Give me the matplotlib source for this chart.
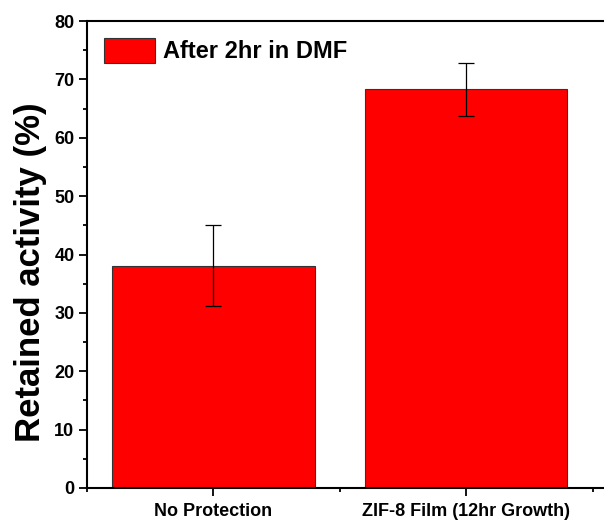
import matplotlib
matplotlib.use("Agg")
import matplotlib.pyplot as plt
from matplotlib.ticker import MultipleLocator, FixedLocator

plt.rcParams['font.family'] = ['Liberation Sans', 'DejaVu Sans']
plt.rcParams['font.weight'] = 'bold'

# data
categories = ["No Protection", "ZIF-8 Film (12hr Growth)"]
retained = [38.1, 68.3]
errors = [6.9, 4.5]
series_label = "After 2hr in DMF"

fig = plt.figure(figsize=(6.04, 5.27), dpi=100)
ax = fig.add_axes([87 / 604, 39 / 527, 1 - 87 / 604, 467 / 527])

pos = [1, 2]
ax.bar(pos, retained, width=0.8, color='#ff0000', edgecolor='#333333',
       linewidth=0.8, label=series_label, zorder=2)
ax.errorbar(pos, retained, yerr=errors, fmt='none', ecolor='black',
            elinewidth=0.9, capsize=5.5, capthick=0.9, zorder=3)

ax.set_xlim(0.5, 2.545)
ax.set_ylim(0, 80)

ax.set_xticks(pos)
ax.set_xticklabels(categories, fontsize=13, fontweight='bold')
ax.xaxis.set_minor_locator(FixedLocator([0.5, 1.5, 2.5]))
ax.yaxis.set_major_locator(MultipleLocator(10))
ax.yaxis.set_minor_locator(MultipleLocator(5))
for lab in ax.get_yticklabels():
    lab.set_fontsize(13)
    lab.set_fontweight('bold')

ax.tick_params(which='major', direction='out', length=6, width=1.3, pad=3)
ax.tick_params(which='minor', direction='out', length=3, width=1.3)
ax.tick_params(axis='x', which='major', pad=5)

for side in ['left', 'bottom', 'top']:
    ax.spines[side].set_linewidth(1.5)
ax.spines['right'].set_visible(False)

ax.set_ylabel("Retained activity (%)", fontsize=25, fontweight='bold')
ax.yaxis.set_label_coords(-0.078, 0.463)

ax.legend(loc='upper left', frameon=False, handlelength=2.2,
          handleheight=1.3, handletextpad=0.3, borderaxespad=0.3,
          prop={'weight': 'bold', 'size': 17})

fig.savefig("out.png", dpi=100)
